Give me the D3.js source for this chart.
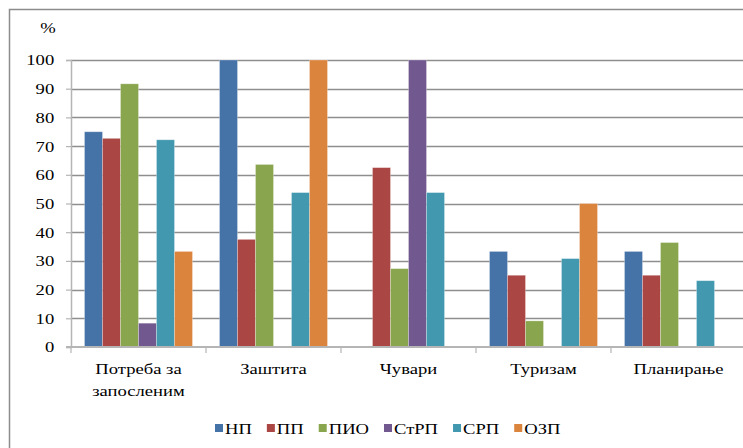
<!DOCTYPE html>
<html>
<head>
<meta charset="utf-8">
<script src="https://cdn.jsdelivr.net/npm/d3@7"></script>
<style>
    html, body { margin: 0; padding: 0; background: #fff; }
</style>
</head>
<body>
<div id="chart"></div>
<script>
// Chart values
const categories = ['Потреба за\nзапосленим', 'Заштита', 'Чувари', 'Туризам', 'Планирање'];
const seriesNames = ['НП', 'ПП', 'ПИО', 'СтРП', 'СРП', 'ОЗП'];
const np = [75, 100, 0, 33.3, 33.3];
const pp = [72.7, 37.5, 62.5, 25, 25];
const pio = [91.7, 63.6, 27.3, 9.1, 36.4];
const strp = [8.3, 0, 100, 0, 0];
const srp = [72.2, 53.8, 53.8, 30.8, 23.1];
const ozp = [33.3, 100, 0, 50, 0];
const yTicks = [0, 10, 20, 30, 40, 50, 60, 70, 80, 90, 100];
const colors = ['#4572A7', '#AA4643', '#89A54E', '#71588F', '#4198AF', '#DB843D'];

const values = [np, pp, pio, strp, srp, ozp];
const W = 743, H = 448;
const margin = { top: 60, right: -3, bottom: 101, left: 71 };
const textScale = 1.2;
const FONT = '"Liberation Serif"';

const svg = d3.select('#chart')
    .append('svg')
    .attr('width', W)
    .attr('height', H);

// outer frame (only top and left edges are visible)
svg.append('path')
    .attr('d', `M9.5,${H + 2} V9.5 H${W + 2}`)
    .attr('fill', 'none')
    .attr('stroke', '#8c8c8c')
    .attr('stroke-width', 1.5);

const g = svg.append('g').attr('transform', `translate(${margin.left},${margin.top})`);
const width = W - margin.left - margin.right;
const height = H - margin.top - margin.bottom;

const x0 = d3.scaleBand().domain(categories).range([0, width]);
const x1 = d3.scaleBand().domain(seriesNames).range([0, x0.bandwidth()]).paddingOuter(0.75);
const y = d3.scaleLinear().domain([0, 100]).range([height, 0]);

// gridlines
g.append('g')
    .selectAll('line')
    .data(yTicks.filter(d => d > 0))
    .join('line')
    .attr('x1', 0)
    .attr('x2', width)
    .attr('y1', d => Math.round(y(d)) + 0.5)
    .attr('y2', d => Math.round(y(d)) + 0.5)
    .attr('stroke', '#8e8e8e')
    .attr('stroke-width', 1.3);

// bars
const rows = [];
categories.forEach((c, i) => {
    seriesNames.forEach((s, j) => {
        rows.push({ cat: c, series: s, value: values[j][i], color: colors[j] });
    });
});

g.append('g')
    .selectAll('rect')
    .data(rows.filter(d => d.value > 0))
    .join('rect')
    .attr('x', d => x0(d.cat) + x1(d.series))
    .attr('y', d => y(d.value))
    .attr('width', x1.bandwidth())
    .attr('height', d => y(0) - y(d.value))
    .attr('fill', d => d.color)
    .attr('stroke', 'rgba(255,255,255,0.35)')
    .attr('stroke-width', 0.8);

// y axis
const yAxis = g.append('g')
    .call(d3.axisLeft(y).tickValues(yTicks).tickSize(5).tickPadding(9));
yAxis.select('.domain').attr('stroke', '#b5b5b5').attr('stroke-width', 1.5);
yAxis.selectAll('.tick line').attr('stroke', '#b5b5b5').attr('stroke-width', 1.2);
yAxis.selectAll('text')
    .attr('fill', '#000')
    .attr('font-family', FONT)
    .attr('font-size', 15.5)
    .attr('transform', `scale(${textScale},1)`);

// x axis
const xAxis = g.append('g')
    .attr('transform', `translate(0,${height})`);
xAxis.append('line')
    .attr('x1', -5)
    .attr('x2', width)
    .attr('y1', 0)
    .attr('y2', 0)
    .attr('stroke', '#b5b5b5')
    .attr('stroke-width', 2);
xAxis.selectAll('.cat-tick')
    .data(categories)
    .join('line')
    .attr('class', 'cat-tick')
    .attr('x1', d => x0(d))
    .attr('x2', d => x0(d))
    .attr('y1', 0)
    .attr('y2', 6)
    .attr('stroke', '#b5b5b5')
    .attr('stroke-width', 1.2);

const labels = xAxis.selectAll('.cat-label')
    .data(categories)
    .join('text')
    .attr('class', 'cat-label')
    .attr('text-anchor', 'middle')
    .attr('font-family', FONT)
    .attr('font-size', 15.5)
    .attr('fill', '#000')
    .attr('transform', d => `translate(${x0(d) + x0.bandwidth() / 2},27) scale(${textScale},1)`);
labels.selectAll('tspan')
    .data(d => d.split('\n'))
    .join('tspan')
    .attr('x', 0)
    .attr('y', (d, i) => i * 22.5)
    .text(d => d);

// % unit label
svg.append('text')
    .attr('transform', `translate(48,33) scale(${textScale},1)`)
    .attr('text-anchor', 'middle')
    .attr('font-family', FONT)
    .attr('font-size', 15.5)
    .text('%');

// legend
const legend = svg.append('g').attr('transform', 'translate(215,434)');
let lx = 0;
seriesNames.forEach((s, i) => {
    const item = legend.append('g').attr('transform', `translate(${lx},0)`);
    item.append('rect')
        .attr('x', 0)
        .attr('y', -10)
        .attr('width', 8)
        .attr('height', 8)
        .attr('fill', colors[i]);
    const t = item.append('text')
        .attr('transform', `translate(10,0) scale(${textScale},1)`)
        .attr('font-family', FONT)
        .attr('font-size', 15.5)
        .text(s);
    lx += 10 + t.node().getComputedTextLength() * textScale + 15;
});
</script>
</body>
</html>
